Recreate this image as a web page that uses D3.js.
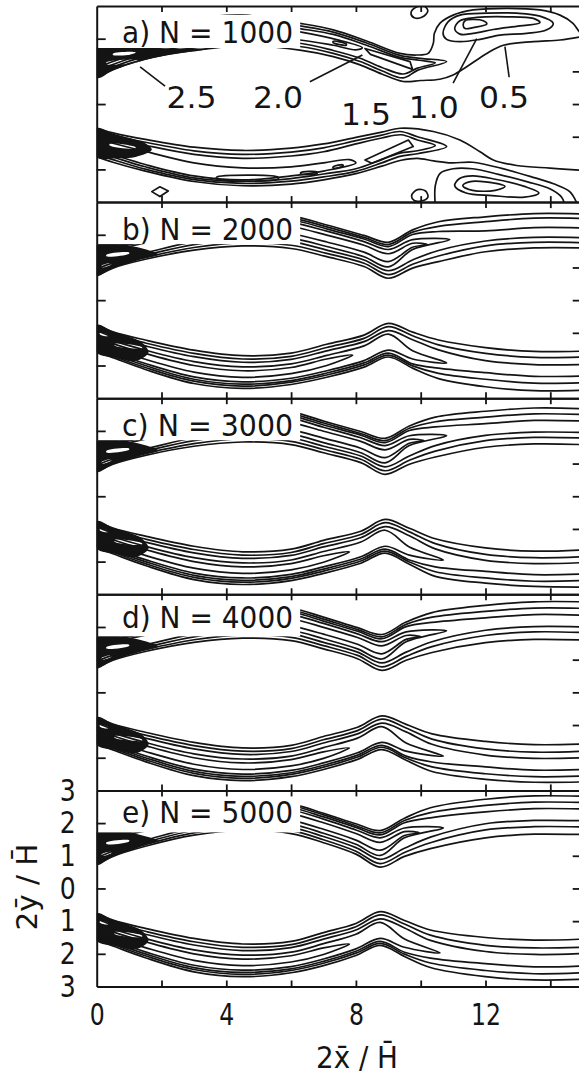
<!DOCTYPE html>
<html>
<head>
<meta charset="utf-8">
<script src="https://cdn.jsdelivr.net/npm/d3@7"></script>
<style>
  html, body { margin: 0; padding: 0; background: #ffffff; }
  svg { display: block; }
</style>
</head>
<body>
<svg id="chart" width="579" height="1076"></svg>
<script>
// ---------------- titles and ticks ----------------
const panelLabels = ["a) N = 1000", "b) N = 2000", "c) N = 3000", "d) N = 4000", "e) N = 5000"];
const xTickValues = [0, 4, 8, 12];
const xMinorTicks = [2, 4, 6, 8, 10, 12, 14];
const yLeftTicks = [2, 0, -2];
const yRightTicks = [1, 0, -1];
const yTickValues = [3, 2, 1, 0, -1, -2, -3];
const yTickLabels = ["3", "2", "1", "0", "1", "2", "3"];

// ---------------- panel a (N = 1000): contour polylines [x, y] ----------------
const aUpperOuter = [[0,1.72],[1.5,2.2],[3,2.6],[4.5,2.72],[6.27,2.47],[7.3,2.27],[8.33,1.93],[9.36,1.55],[9.87,1.5],[10.23,1.55],[10.39,1.86],[10.42,2.16],[10.59,2.47],[11.0,2.72],[11.62,2.88],[12.66,2.93],[13.68,2.88],[14.3,2.72],[14.7,2.47],[14.9,2.21],[15.05,2.12]];
const aUpperInner = [[0,0.8],[0.5,1.05],[1.5,1.38],[3,1.64],[4.5,1.78],[6.27,1.65],[7.3,1.45],[8.13,1.2],[8.8,0.92],[9.46,0.69],[10.0,0.72],[10.59,0.76],[11.0,0.89],[11.42,1.14],[12.04,1.55],[12.55,1.8],[13.48,1.91],[14.3,1.96],[14.9,2.05],[15.05,2.08]];
const aUpper10 = [[0,0.9],[0.5,1.13],[1.5,1.46],[3,1.72],[4.5,1.86],[6.27,1.76],[7.3,1.55],[8.13,1.3],[8.8,1.02],[9.46,0.8],[9.9,1.03],[10.8,1.3],[10.0,1.4],[9.36,1.49],[8.33,1.87],[7.3,2.2],[6.27,2.39],[4.5,2.65],[3,2.52],[1.5,2.1],[0,1.64]];
const aUpper15 = [[0,1.0],[0.5,1.21],[1.5,1.53],[3,1.8],[4.5,1.95],[6.27,1.86],[7.3,1.64],[8.13,1.4],[8.8,1.12],[9.46,0.92],[9.9,1.1],[10.45,1.26],[9.95,1.34],[9.36,1.43],[8.33,1.8],[7.3,2.13],[6.27,2.31],[4.5,2.57],[3,2.43],[1.5,2.0],[0,1.54]];
const aUpper20 = [[0,1.1],[0.5,1.3],[1.5,1.62],[3,1.9],[4.5,2.05],[6.27,1.96],[7.3,1.8],[8.0,1.66],[8.2,1.72],[7.5,1.95],[6.27,2.21],[4.5,2.46],[3,2.32],[1.5,1.9],[0,1.44]];
const aUpperBox = [[8.28,1.7],[9.67,1.3],[9.75,1.06],[8.45,1.52]];
const aBlob10 = [[10.69,2.16],[10.85,2.52],[11.21,2.72],[12.04,2.78],[12.96,2.78],[13.68,2.69],[14.09,2.47],[13.89,2.27],[13.27,2.16],[12.45,2.11],[11.83,1.98],[11.21,1.91],[10.8,1.98]];
const aBlob15 = [[11.05,2.31],[11.21,2.55],[11.73,2.65],[12.66,2.67],[13.48,2.62],[13.68,2.49],[13.06,2.39],[12.24,2.28],[11.62,2.16],[11.21,2.14]];
const aBlob20 = [[11.31,2.42],[11.37,2.55],[11.93,2.55],[12.04,2.45],[11.62,2.34],[11.37,2.31]];
const aIslandTop = [[9.7,2.78],[9.85,2.96],[10.1,3.0],[10.22,2.85],[10.05,2.66],[9.8,2.64]];

const aLowerInner = [[0,-0.74],[0.5,-0.88],[1.5,-1.08],[3,-1.32],[4.5,-1.42],[6,-1.35],[7,-1.22],[8,-1.02],[8.8,-0.86],[9.36,-0.74],[10.39,-0.84],[11.21,-1.1],[11.83,-1.46],[12.24,-1.71],[12.96,-1.88],[13.99,-1.96],[14.9,-2.02],[15.1,-2.03]];
const aLowerOuter = [[0,-1.61],[0.5,-1.78],[1.5,-2.05],[3,-2.37],[4.5,-2.5],[6,-2.45],[7,-2.32],[8,-2.13],[8.8,-1.9],[9.4,-1.72],[9.9,-1.66],[10.4,-1.74],[10.95,-1.8],[11.6,-1.78],[12.5,-1.97],[13.4,-2.22],[14.1,-2.44],[14.6,-2.68],[14.85,-3.1]];
const aLower10 = [[0,-0.82],[0.5,-0.96],[1.5,-1.17],[3,-1.43],[4.5,-1.54],[6,-1.47],[7,-1.34],[8,-1.12],[8.8,-0.95],[9.36,-0.84],[9.9,-1.0],[10.8,-1.3],[9.9,-1.52],[9.36,-1.6],[8.8,-1.8],[8,-2.06],[7,-2.23],[6,-2.36],[4.5,-2.43],[3,-2.31],[1.5,-1.99],[0.5,-1.7],[0,-1.54]];
const aLower15 = [[0,-0.9],[0.5,-1.04],[1.5,-1.26],[3,-1.54],[4.5,-1.66],[6,-1.59],[7,-1.46],[8,-1.22],[8.8,-1.04],[9.4,-0.94],[9.9,-1.1],[10.45,-1.27],[9.9,-1.43],[9.36,-1.5],[8.8,-1.7],[8,-1.98],[7,-2.14],[6,-2.28],[4.5,-2.37],[3,-2.26],[1.5,-1.92],[0.5,-1.62],[0,-1.47]];
const aLower20 = [[0,-1.05],[0.5,-1.2],[1.5,-1.45],[3,-1.8],[4.5,-1.95],[6,-1.92],[7,-1.8],[7.8,-1.7],[8.0,-1.8],[7,-2.05],[6,-2.2],[4.5,-2.32],[3,-2.2],[1.5,-1.85],[0.5,-1.55],[0,-1.4]];
const aLowerBox = [[8.28,-1.71],[9.62,-1.1],[9.77,-1.3],[8.49,-1.81]];
const aBlobLow10 = [[10.45,-3.1],[10.45,-2.5],[10.6,-2.12],[11.0,-1.98],[11.6,-1.98],[12.4,-2.15],[13.3,-2.38],[14.0,-2.6],[14.35,-2.85],[14.45,-3.1]];
const aBlobLow15 = [[11.05,-2.5],[11.2,-2.28],[11.6,-2.2],[12.3,-2.3],[13.2,-2.52],[13.65,-2.72],[13.2,-2.85],[12.2,-2.8],[11.4,-2.72]];
const aBlobLow20 = [[11.3,-2.5],[11.5,-2.38],[12.0,-2.38],[12.6,-2.52],[12.3,-2.64],[11.6,-2.64]];
const aIslandBottom = [[9.72,-2.8],[9.9,-2.62],[10.15,-2.66],[10.22,-2.85],[10.0,-2.97],[9.8,-2.95]];
const aDiamond = [[1.7,-2.68],[1.95,-2.53],[2.21,-2.66],[1.95,-2.83]];
const aDashes = [
  [[3.7,-2.24],[5.6,-2.24],[5.6,-2.29],[3.7,-2.29]],
  [[6.3,-2.1],[6.8,-2.08],[6.8,-2.12],[6.3,-2.14]],
  [[7.3,-1.92],[7.6,-1.86],[7.6,-1.9],[7.3,-1.96]],
  [[7.3,1.88],[7.7,1.8],[7.7,1.84],[7.3,1.92]]
];
const aClusters = [
  [[0,0.8],[0.5,1.03],[1.0,1.2],[1.6,1.37],[2.4,1.54],[3.4,1.68],[2.4,1.7],[1.2,1.72],[0,1.74]],
  [[0,-0.74],[0.5,-0.9],[1.0,-1.04],[1.5,-1.2],[1.7,-1.4],[1.2,-1.62],[0.6,-1.66],[0,-1.62]]
];
const aStreaks = [
  [[0.3,1.22],[1.3,1.3],[1.3,1.34],[0.3,1.28]],
  [[0.5,1.5],[1.2,1.55],[1.2,1.58],[0.5,1.54]],
  [[0.4,-1.22],[1.2,-1.32],[1.2,-1.36],[0.4,-1.27]]
];
// contour level labels of panel a and their leader lines
const levelLabels = ["2.5", "2.0", "1.5", "1.0", "0.5"];
const levelLabelAt = [[2.93,-0.13],[5.6,-0.13],[8.31,-0.64],[10.4,-0.43],[12.57,-0.13]];
const levelLeaders = [
  [[1.34,1.14],[2.11,0.55]],
  [[6.58,0.68],[8.2,1.5]],
  [[11.0,0.64],[11.73,2.0]],
  [[12.73,0.82],[12.6,1.76]]
];

// ---------------- panels b–e: band contours sampled on a grid ----------------
// band rows, inner edge to outer edge: levels 0.5, 1.0, 1.5 | 1.5, 1.0, 0.5
// loops: 2.0 contour (upper inner, upper outer, lower inner, lower outer); tips close them
// cores: 2.5 contour of the upper and lower band
const gridB = [0,0.5,1.5,3,4.5,6,7.1,8.25,9.0,9.75,10.55,12,13.5,15];
const upperB = [
  [0.74,0.98,1.25,1.53,1.66,1.58,1.33,1.03,0.67,0.98,1.18,1.48,1.60,1.60],
  [0.84,1.06,1.31,1.61,1.76,1.68,1.43,1.13,0.78,1.10,1.35,1.66,1.77,1.76],
  [0.95,1.14,1.38,1.70,1.87,1.79,1.53,1.23,0.90,1.23,1.52,1.81,1.92,1.91],
  [1.58,1.62,1.80,2.25,2.53,2.46,2.18,1.87,1.64,2.01,2.10,2.12,2.22,2.21],
  [1.63,1.66,1.83,2.30,2.59,2.52,2.24,1.92,1.70,2.08,2.26,2.40,2.51,2.50],
  [1.68,1.70,1.88,2.35,2.65,2.58,2.30,1.98,1.77,2.15,2.40,2.55,2.65,2.64]
];
const lowerB = [
  [-0.77,-0.97,-1.22,-1.53,-1.70,-1.62,-1.35,-1.07,-0.71,-0.98,-1.22,-1.45,-1.57,-1.56],
  [-0.85,-1.05,-1.31,-1.63,-1.80,-1.72,-1.45,-1.17,-0.81,-1.09,-1.37,-1.63,-1.75,-1.74],
  [-0.93,-1.13,-1.40,-1.73,-1.90,-1.81,-1.55,-1.27,-0.93,-1.21,-1.52,-1.85,-1.97,-1.97],
  [-1.48,-1.66,-2.00,-2.42,-2.57,-2.46,-2.23,-1.92,-1.62,-1.95,-2.08,-2.22,-2.33,-2.32],
  [-1.52,-1.71,-2.06,-2.48,-2.63,-2.51,-2.29,-1.98,-1.68,-2.01,-2.24,-2.42,-2.54,-2.53],
  [-1.58,-1.76,-2.12,-2.55,-2.70,-2.58,-2.36,-2.05,-1.74,-2.08,-2.40,-2.65,-2.77,-2.76]
];
const loopsB = [
  [1.06,1.23,1.45,1.79,1.98,1.90,1.64,1.33,1.02,1.55],
  [1.50,1.56,1.75,2.19,2.45,2.38,2.11,1.79,1.55,1.85],
  [-1.05,-1.24,-1.53,-1.88,-2.04,-1.95,-1.69,-1.40,-1.04,-1.55],
  [-1.42,-1.60,-1.94,-2.35,-2.50,-2.39,-2.16,-1.85,-1.53,-1.80]
];
const tipsB = [[10.9,1.85],[10.8,-1.92]];
const coresB = [
  [[5.0,2.2],[6,2.04],[7.1,1.78],[8.25,1.47],[9.0,1.18],[9.75,1.62],[10.2,1.7],[9.75,1.74],[9.0,1.42],[8.25,1.68],[7.1,1.99],[6,2.26],[5.0,2.4]],
  [[0,-1.14],[0.5,-1.33],[1.5,-1.63],[3,-2.0],[4.5,-2.16],[6,-2.06],[7.1,-1.8],[7.9,-1.68],[7.1,-2.0],[6,-2.25],[4.5,-2.36],[3,-2.2],[1.5,-1.81],[0.5,-1.49],[0,-1.31]]
];
const clustersB = [
  [[0,0.75],[0.5,0.98],[1.0,1.14],[1.5,1.28],[1.9,1.4],[1.5,1.56],[1.0,1.66],[0,1.68]],
  [[0,-0.76],[0.5,-0.96],[1.0,-1.12],[1.4,-1.3],[1.6,-1.6],[1.2,-1.86],[0.6,-1.76],[0,-1.6]]
];
const streaksB = [
  [[0.3,1.34],[1.0,1.42],[1.0,1.46],[0.3,1.39]],
  [[0.15,1.0],[0.45,1.09],[0.45,1.13],[0.15,1.05]],
  [[0.55,-1.34],[1.4,-1.44],[1.4,-1.48],[0.55,-1.39]],
  [[0.1,-1.0],[0.35,-1.06],[0.35,-1.1],[0.1,-1.05]]
];

const gridC = [0,0.5,1.5,3,4.5,6,7,8.15,8.9,9.65,10.45,12,13.5,15];
const upperC = [
  [0.74,0.98,1.25,1.53,1.66,1.58,1.33,1.03,0.67,0.98,1.20,1.50,1.60,1.58],
  [0.84,1.06,1.31,1.61,1.76,1.68,1.43,1.13,0.78,1.10,1.38,1.70,1.80,1.78],
  [0.95,1.14,1.38,1.70,1.87,1.79,1.53,1.23,0.90,1.23,1.55,1.86,1.96,1.95],
  [1.58,1.62,1.80,2.25,2.53,2.46,2.18,1.87,1.64,2.01,2.12,2.22,2.32,2.30],
  [1.63,1.66,1.83,2.30,2.59,2.52,2.24,1.92,1.70,2.08,2.28,2.42,2.52,2.50],
  [1.68,1.70,1.88,2.35,2.65,2.58,2.30,1.98,1.77,2.15,2.42,2.60,2.70,2.68]
];
const lowerC = [
  [-0.77,-0.97,-1.22,-1.53,-1.70,-1.62,-1.35,-1.07,-0.71,-0.98,-1.30,-1.58,-1.68,-1.64],
  [-0.85,-1.05,-1.31,-1.63,-1.80,-1.72,-1.45,-1.17,-0.81,-1.09,-1.45,-1.78,-1.88,-1.85],
  [-0.93,-1.13,-1.40,-1.73,-1.90,-1.81,-1.55,-1.27,-0.93,-1.21,-1.61,-1.96,-2.06,-2.03],
  [-1.48,-1.66,-2.00,-2.42,-2.57,-2.46,-2.23,-1.92,-1.62,-1.95,-2.16,-2.30,-2.40,-2.38],
  [-1.52,-1.71,-2.06,-2.48,-2.63,-2.51,-2.29,-1.98,-1.68,-2.01,-2.31,-2.50,-2.60,-2.58],
  [-1.58,-1.76,-2.12,-2.55,-2.70,-2.58,-2.36,-2.05,-1.74,-2.08,-2.45,-2.66,-2.76,-2.78]
];
const loopsC = [
  [1.06,1.23,1.45,1.79,1.98,1.90,1.64,1.33,1.02,1.55],
  [1.50,1.56,1.75,2.19,2.45,2.38,2.11,1.79,1.55,1.85],
  [-1.05,-1.24,-1.53,-1.88,-2.04,-1.95,-1.69,-1.40,-1.04,-1.55],
  [-1.42,-1.60,-1.94,-2.35,-2.50,-2.39,-2.16,-1.85,-1.53,-1.80]
];
const tipsC = [[10.8,1.85],[10.7,-1.95]];
const coresC = [
  [[5.0,2.2],[6,2.04],[7,1.78],[8.15,1.47],[8.9,1.18],[9.65,1.62],[10.1,1.7],[9.65,1.74],[8.9,1.42],[8.15,1.68],[7,1.99],[6,2.26],[5.0,2.4]],
  [[0,-1.14],[0.5,-1.33],[1.5,-1.63],[3,-2.0],[4.5,-2.16],[6,-2.06],[7,-1.82],[7.8,-1.7],[7,-2.02],[6,-2.25],[4.5,-2.36],[3,-2.2],[1.5,-1.81],[0.5,-1.49],[0,-1.31]]
];
const clustersC = [
  [[0,0.75],[0.5,0.98],[1.0,1.14],[1.5,1.28],[1.9,1.4],[1.5,1.56],[1.0,1.66],[0,1.68]],
  [[0,-0.76],[0.5,-0.96],[1.0,-1.12],[1.4,-1.3],[1.6,-1.6],[1.2,-1.86],[0.6,-1.76],[0,-1.6]]
];
const streaksC = [
  [[0.3,1.34],[1.0,1.42],[1.0,1.46],[0.3,1.39]],
  [[0.15,1.0],[0.45,1.09],[0.45,1.13],[0.15,1.05]],
  [[0.55,-1.34],[1.4,-1.44],[1.4,-1.48],[0.55,-1.39]],
  [[0.1,-1.0],[0.35,-1.06],[0.35,-1.1],[0.1,-1.05]]
];

const gridD = [0,0.5,1.5,3,4.5,6,7,8.05,8.8,9.55,10.35,12,13.5,15];
const upperD = [
  [0.74,0.98,1.25,1.53,1.66,1.58,1.33,1.03,0.67,0.98,1.22,1.52,1.62,1.60],
  [0.84,1.06,1.31,1.61,1.76,1.68,1.43,1.13,0.78,1.10,1.40,1.74,1.85,1.83],
  [0.95,1.14,1.38,1.70,1.87,1.79,1.53,1.23,0.90,1.23,1.55,1.90,2.01,2.00],
  [1.58,1.62,1.80,2.25,2.53,2.46,2.18,1.87,1.64,2.01,2.14,2.28,2.38,2.36],
  [1.63,1.66,1.83,2.30,2.59,2.52,2.24,1.92,1.70,2.08,2.30,2.48,2.58,2.57],
  [1.68,1.70,1.88,2.35,2.65,2.58,2.30,1.98,1.77,2.15,2.44,2.66,2.77,2.77]
];
const lowerD = [
  [-0.77,-0.97,-1.22,-1.53,-1.70,-1.62,-1.35,-1.07,-0.72,-0.98,-1.27,-1.50,-1.60,-1.58],
  [-0.85,-1.05,-1.31,-1.63,-1.80,-1.72,-1.45,-1.17,-0.82,-1.09,-1.43,-1.73,-1.83,-1.80],
  [-0.93,-1.13,-1.40,-1.73,-1.90,-1.81,-1.55,-1.27,-0.94,-1.21,-1.59,-1.92,-2.02,-2.00],
  [-1.48,-1.66,-2.00,-2.42,-2.57,-2.46,-2.23,-1.92,-1.62,-1.95,-2.13,-2.28,-2.38,-2.36],
  [-1.52,-1.71,-2.06,-2.48,-2.63,-2.51,-2.29,-1.98,-1.68,-2.01,-2.28,-2.49,-2.58,-2.56],
  [-1.58,-1.76,-2.12,-2.55,-2.70,-2.58,-2.36,-2.05,-1.75,-2.08,-2.42,-2.66,-2.75,-2.74]
];
const loopsD = [
  [1.06,1.23,1.45,1.79,1.98,1.90,1.64,1.33,1.02,1.55],
  [1.50,1.56,1.75,2.19,2.45,2.38,2.11,1.79,1.55,1.85],
  [-1.05,-1.24,-1.53,-1.88,-2.04,-1.95,-1.69,-1.40,-1.05,-1.55],
  [-1.42,-1.60,-1.94,-2.35,-2.50,-2.39,-2.16,-1.85,-1.53,-1.80]
];
const tipsD = [[10.8,1.88],[10.7,-1.95]];
const coresD = [
  [[5.0,2.2],[6,2.04],[7,1.78],[8.05,1.47],[8.8,1.18],[9.55,1.62],[10.0,1.7],[9.55,1.74],[8.8,1.42],[8.05,1.68],[7,1.99],[6,2.26],[5.0,2.4]],
  [[0,-1.14],[0.5,-1.33],[1.5,-1.63],[3,-2.0],[4.5,-2.16],[6,-2.06],[7,-1.82],[7.8,-1.7],[7,-2.02],[6,-2.25],[4.5,-2.36],[3,-2.2],[1.5,-1.81],[0.5,-1.49],[0,-1.31]]
];
const clustersD = [
  [[0,0.75],[0.5,0.98],[1.0,1.14],[1.5,1.28],[1.9,1.4],[1.5,1.56],[1.0,1.66],[0,1.68]],
  [[0,-0.76],[0.5,-0.96],[1.0,-1.12],[1.4,-1.3],[1.6,-1.6],[1.2,-1.86],[0.6,-1.76],[0,-1.6]]
];
const streaksD = [
  [[0.3,1.34],[1.0,1.42],[1.0,1.46],[0.3,1.39]],
  [[0.15,1.0],[0.45,1.09],[0.45,1.13],[0.15,1.05]],
  [[0.55,-1.34],[1.4,-1.44],[1.4,-1.48],[0.55,-1.39]],
  [[0.1,-1.0],[0.35,-1.06],[0.35,-1.1],[0.1,-1.05]]
];

const gridE = [0,0.5,1.5,3,4.5,6,7,8,8.75,9.5,10.3,12,13.5,15];
const upperE = [
  [0.73,0.98,1.29,1.63,1.78,1.68,1.40,1.05,0.65,0.98,1.22,1.55,1.66,1.65],
  [0.83,1.06,1.35,1.70,1.87,1.77,1.49,1.14,0.76,1.10,1.40,1.79,1.89,1.88],
  [0.94,1.14,1.41,1.78,1.96,1.87,1.59,1.25,0.89,1.23,1.57,1.98,2.08,2.07],
  [1.60,1.64,1.81,2.26,2.55,2.47,2.19,1.87,1.64,2.01,2.16,2.34,2.44,2.43],
  [1.65,1.68,1.85,2.31,2.60,2.53,2.25,1.92,1.70,2.08,2.32,2.54,2.64,2.63],
  [1.70,1.72,1.88,2.35,2.65,2.58,2.30,1.98,1.77,2.15,2.47,2.73,2.83,2.82]
];
const lowerE = [
  [-0.77,-0.97,-1.22,-1.53,-1.70,-1.62,-1.35,-1.07,-0.71,-0.98,-1.27,-1.50,-1.58,-1.55],
  [-0.85,-1.05,-1.31,-1.63,-1.80,-1.72,-1.45,-1.17,-0.81,-1.09,-1.43,-1.74,-1.82,-1.80],
  [-0.93,-1.13,-1.40,-1.73,-1.90,-1.81,-1.55,-1.27,-0.93,-1.21,-1.59,-1.93,-2.02,-1.99],
  [-1.48,-1.66,-2.00,-2.42,-2.57,-2.46,-2.23,-1.92,-1.62,-1.95,-2.13,-2.30,-2.40,-2.37],
  [-1.52,-1.71,-2.06,-2.48,-2.63,-2.51,-2.29,-1.98,-1.68,-2.01,-2.28,-2.51,-2.61,-2.58],
  [-1.58,-1.76,-2.12,-2.55,-2.70,-2.58,-2.36,-2.05,-1.74,-2.08,-2.42,-2.70,-2.80,-2.78]
];
const loopsE = [
  [1.05,1.23,1.48,1.86,2.06,1.97,1.69,1.35,1.01,1.55],
  [1.52,1.58,1.76,2.21,2.48,2.40,2.12,1.79,1.55,1.85],
  [-1.05,-1.24,-1.53,-1.88,-2.04,-1.95,-1.69,-1.40,-1.04,-1.55],
  [-1.42,-1.60,-1.94,-2.35,-2.50,-2.39,-2.16,-1.85,-1.53,-1.80]
];
const tipsE = [[10.7,1.85],[10.6,-1.97]];
const coresE = [
  [[5.0,2.25],[6,2.09],[7,1.81],[8,1.48],[8.75,1.17],[9.5,1.62],[9.95,1.7],[9.5,1.74],[8.75,1.41],[8,1.68],[7,2.01],[6,2.29],[5.0,2.45]],
  [[0,-1.14],[0.5,-1.33],[1.5,-1.63],[3,-2.0],[4.5,-2.16],[6,-2.06],[7,-1.82],[7.8,-1.7],[7,-2.02],[6,-2.25],[4.5,-2.36],[3,-2.2],[1.5,-1.81],[0.5,-1.49],[0,-1.31]]
];
const clustersE = [
  [[0,0.73],[0.5,0.97],[1.0,1.15],[1.5,1.32],[1.9,1.45],[1.5,1.6],[1.0,1.7],[0,1.72]],
  [[0,-0.76],[0.5,-0.96],[1.0,-1.12],[1.4,-1.3],[1.6,-1.6],[1.2,-1.86],[0.6,-1.76],[0,-1.6]]
];
const streaksE = [
  [[0.3,1.36],[1.0,1.44],[1.0,1.48],[0.3,1.41]],
  [[0.15,1.0],[0.45,1.08],[0.45,1.12],[0.15,1.05]],
  [[0.55,-1.34],[1.4,-1.44],[1.4,-1.48],[0.55,-1.39]],
  [[0.1,-1.0],[0.35,-1.06],[0.35,-1.1],[0.1,-1.05]]
];

const bandPanels = [
  { grid: gridB, upper: upperB, lower: lowerB, loops: loopsB, tips: tipsB, cores: coresB, clusters: clustersB, streaks: streaksB },
  { grid: gridC, upper: upperC, lower: lowerC, loops: loopsC, tips: tipsC, cores: coresC, clusters: clustersC, streaks: streaksC },
  { grid: gridD, upper: upperD, lower: lowerD, loops: loopsD, tips: tipsD, cores: coresD, clusters: clustersD, streaks: streaksD },
  { grid: gridE, upper: upperE, lower: lowerE, loops: loopsE, tips: tipsE, cores: coresE, clusters: clustersE, streaks: streaksE }
];

// ---------------- layout ----------------
const FONT = '"DejaVu Sans", "Liberation Sans", sans-serif';
const INK = "#141414";
const PANEL_TOP = 6, PANEL_H = 196.1;
const labelBaselines = [37.3, 37.5, 37.3, 34, 32.5];

const x = d3.scaleLinear().domain([0, 15]).range([96.7, 582.7]);
const panelY = i => {
  const top = PANEL_TOP + PANEL_H * i;
  return d3.scaleLinear().domain([-3, 3]).range([top + PANEL_H, top]);
};

const svg = d3.select("#chart");
const defs = svg.append("defs");

function drawPanel(i, drawContours) {
  const y = panelY(i);
  const top = y(3), bottom = y(-3);
  defs.append("clipPath").attr("id", "clip-" + i)
    .append("rect").attr("x", x(0)).attr("y", top)
    .attr("width", x(15) - x(0)).attr("height", bottom - top);

  const g = svg.append("g");
  const plot = g.append("g").attr("clip-path", `url(#clip-${i})`);
  const openLine = d3.line().x(d => x(d[0])).y(d => y(d[1])).curve(d3.curveCatmullRom.alpha(0.5));
  const closedLine = d3.line().x(d => x(d[0])).y(d => y(d[1])).curve(d3.curveCatmullRomClosed.alpha(0.5));
  const polyLine = d3.line().x(d => x(d[0])).y(d => y(d[1])).curve(d3.curveLinearClosed);
  const segLine = d3.line().x(d => x(d[0])).y(d => y(d[1]));

  const api = {
    stroke: pts => plot.append("path").attr("d", openLine(pts)).attr("fill", "none")
      .attr("stroke", INK).attr("stroke-width", 1.7).attr("stroke-linejoin", "round"),
    loop: pts => plot.append("path").attr("d", closedLine(pts)).attr("fill", "none")
      .attr("stroke", INK).attr("stroke-width", 1.7),
    box: pts => plot.append("path").attr("d", polyLine(pts)).attr("fill", "none")
      .attr("stroke", INK).attr("stroke-width", 1.7).attr("stroke-linejoin", "round"),
    fill: (pts, color) => plot.append("path").attr("d", closedLine(pts)).attr("fill", color).attr("stroke", "none"),
    seg: pts => plot.append("path").attr("d", segLine(pts)).attr("fill", "none")
      .attr("stroke", INK).attr("stroke-width", 1.6),
    text: (t, p, len) => plot.append("text").attr("x", x(p[0])).attr("y", y(p[1]))
      .attr("text-anchor", "middle").attr("font-family", FONT).attr("font-size", 31)
      .attr("fill", INK).attr("textLength", len).attr("lengthAdjust", "spacingAndGlyphs").text(t)
  };
  drawContours(api, y);

  // panel title on a white box
  g.append("rect").attr("x", x(0) + 1).attr("y", top + 9)
    .attr("width", x(6.28) - x(0) - 1).attr("height", 33).attr("fill", "#fff");
  g.append("text").attr("x", 122).attr("y", top + labelBaselines[i])
    .attr("font-family", FONT).attr("font-size", 30).attr("fill", INK)
    .attr("textLength", 171).attr("lengthAdjust", "spacingAndGlyphs")
    .text(panelLabels[i]);

  // frame with inward ticks
  const ax = g.append("g");
  ax.append("g").attr("transform", `translate(0,${top})`)
    .call(d3.axisBottom(x).tickValues(xMinorTicks).tickSize(6).tickSizeOuter(0).tickFormat(""));
  ax.append("g").attr("transform", `translate(0,${bottom})`)
    .call(d3.axisTop(x).tickValues(xMinorTicks).tickSize(6).tickSizeOuter(0).tickFormat(""));
  ax.append("g").attr("transform", `translate(${x(0)},0)`)
    .call(d3.axisRight(y).tickValues(yLeftTicks).tickSize(9).tickSizeOuter(0).tickFormat(""));
  ax.append("g").attr("transform", `translate(${x(15)},0)`)
    .call(d3.axisLeft(y).tickValues(yRightTicks).tickSize(10).tickSizeOuter(0).tickFormat(""));
  ax.selectAll(".domain").attr("stroke", INK).attr("stroke-width", 2);
  ax.selectAll(".tick line").attr("stroke", INK).attr("stroke-width", 1.8);
}

// panel a
drawPanel(0, (api) => {
  aClusters.forEach(c => api.fill(c, INK));
  aStreaks.forEach(s => api.fill(s, "#fff"));
  [aUpperOuter, aUpperInner, aUpper10, aUpper15, aUpper20,
   aLowerInner, aLowerOuter, aLower10, aLower15, aLower20, aBlobLow10].forEach(api.stroke);
  [aBlob10, aBlob15, aBlob20, aIslandTop, aBlobLow15, aBlobLow20, aIslandBottom].forEach(api.loop);
  aDashes.forEach(api.loop);
  [aUpperBox, aLowerBox, aDiamond].forEach(api.box);
  levelLeaders.forEach(api.seg);
  levelLabels.forEach((t, k) => api.text(t, levelLabelAt[k], 50));
});

// panels b–e
bandPanels.forEach((p, k) => {
  drawPanel(k + 1, (api) => {
    const at = arr => arr.map((v, j) => [p.grid[j], v]);
    p.clusters.forEach(c => api.fill(c, INK));
    p.streaks.forEach(s => api.fill(s, "#fff"));
    p.upper.forEach(r => api.stroke(at(r)));
    p.lower.forEach(r => api.stroke(at(r)));
    api.stroke(at(p.loops[0]).concat([p.tips[0]], at(p.loops[1]).reverse()));
    api.stroke(at(p.loops[2]).concat([p.tips[1]], at(p.loops[3]).reverse()));
    api.loop(p.cores[0]);
    api.stroke(p.cores[1]);
  });
});

// value axes under the last panel
const yLast = panelY(4);
const xLab = svg.append("g").attr("transform", `translate(0,${yLast(-3)})`)
  .call(d3.axisBottom(x).tickValues(xTickValues).tickSize(0).tickPadding(17).tickFormat(d3.format("d")));
xLab.select(".domain").remove();
xLab.selectAll("text").attr("font-family", FONT).attr("font-size", 30).attr("fill", INK)
  .attr("textLength", d => String(d).length * 15).attr("lengthAdjust", "spacingAndGlyphs");

const yLab = svg.append("g").attr("transform", `translate(${x(0)},0)`)
  .call(d3.axisLeft(yLast).tickValues(yTickValues).tickSize(0).tickPadding(21)
    .tickFormat((d, k) => yTickLabels[k]));
yLab.select(".domain").remove();
yLab.selectAll("text").attr("font-family", FONT).attr("font-size", 30).attr("fill", INK)
  .attr("textLength", 16).attr("lengthAdjust", "spacingAndGlyphs");

svg.append("text").attr("x", 357).attr("y", 1068).attr("text-anchor", "middle")
  .attr("font-family", FONT).attr("font-size", 30).attr("fill", INK)
  .attr("textLength", 82).attr("lengthAdjust", "spacingAndGlyphs")
  .text("2x\u0304 / H\u0304");

svg.append("text").attr("transform", "translate(37,887) rotate(-90)").attr("text-anchor", "middle")
  .attr("font-family", FONT).attr("font-size", 28).attr("fill", INK)
  .attr("textLength", 87).attr("lengthAdjust", "spacingAndGlyphs")
  .text("2\u0233 / H\u0304");
</script>
</body>
</html>
